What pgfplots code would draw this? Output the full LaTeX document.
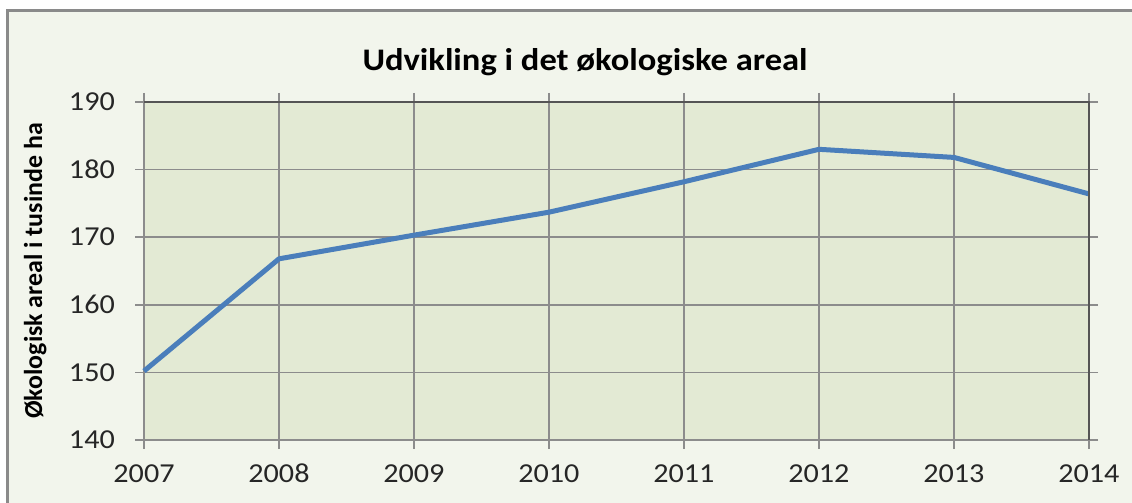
\documentclass[border=0pt]{standalone}
\usepackage{fontspec}
\setmainfont[FakeStretch=1.1]{Carlito}
\newfontfamily\labfont{Carlito}
\usepackage{pgfplots}
\pgfplotsset{compat=1.18}
\definecolor{outerbg}{HTML}{F2F5EC}
\definecolor{plotbg}{HTML}{E3EAD4}
\definecolor{gridc}{HTML}{8C8C8C}
\definecolor{framec}{HTML}{8A8A8A}
\definecolor{darkb}{HTML}{555555}
\definecolor{linec}{HTML}{4A7EBB}
\begin{document}
\begin{tikzpicture}[x=1bp,y=1bp]
\useasboundingbox (0,0) rectangle (1132,503);
\fill[white] (0,0) rectangle (1132,503);
\filldraw[fill=outerbg, draw=framec, line width=2.5bp] (7.5,-10) rectangle (1150,492.5);
\begin{axis}[
  at={(144bp,63bp)}, anchor=south west,
  scale only axis, width=945bp, height=338bp,
  xmin=2007, xmax=2014, ymin=140, ymax=190,
  xtick={2007,...,2014}, ytick={140,150,...,190},
  xticklabel style={/pgf/number format/1000 sep={}},
  /pgf/number format/assume math mode=true,
  ticklabel style={font=\fontsize{27.5}{32}\selectfont, text=black!85},
  yticklabel style={anchor=east, inner sep=0pt, xshift=-20bp},
  xticklabel style={anchor=base, inner sep=0pt, yshift=-34bp},
  tick align=outside, major tick length=9bp,
  tick style={draw=gridc, line width=1.5bp},
  grid=major, major grid style={draw=gridc, line width=1.5bp},
  axis line style={draw=gridc, line width=1.5bp},
  axis background/.style={fill=plotbg},
  title={\bfseries Udvikling i det økologiske areal},
  title style={at={(axis description cs:0.4667,1.1006)}, anchor=center, font=\fontsize{31.5}{35}\selectfont},
  ylabel={\labfont\bfseries Økologisk areal i tusinde ha},
  ylabel style={at={(axis description cs:-0.115,0.5)}, anchor=center, font=\fontsize{26}{30}\selectfont},
  clip=false,
]
\addplot[linec, line width=5bp, line join=round] coordinates {
(2007,150.2) (2008,166.8) (2009,170.3) (2010,173.7) (2011,178.2) (2012,183.0) (2013,181.8) (2014,176.4)
};
\draw[darkb, line width=2bp] (rel axis cs:0,1) -- (rel axis cs:1,1) -- (rel axis cs:1,0);
\end{axis}
\end{tikzpicture}
\end{document}
